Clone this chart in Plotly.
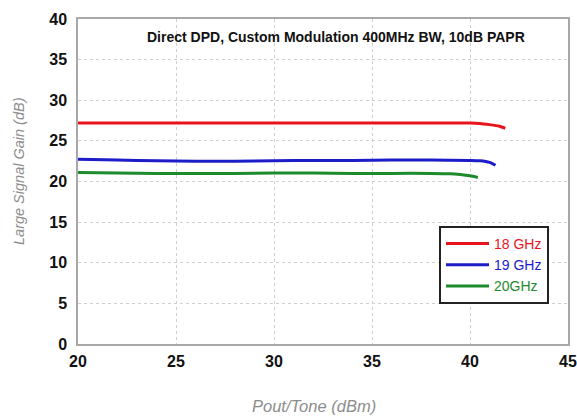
import plotly.graph_objects as go

# Output power per tone (dBm) and large-signal gain (dB) for each carrier frequency
pout_18 = [20, 22, 24, 26, 28, 30, 32, 34, 36, 38, 40, 40.5, 41, 41.5, 41.8]
gain_18 = [27.2, 27.2, 27.2, 27.2, 27.2, 27.2, 27.2, 27.2, 27.2, 27.2, 27.2, 27.15, 27.0, 26.8, 26.55]

pout_19 = [20, 22, 24, 26, 28, 30, 32, 34, 36, 38, 40, 40.5, 41, 41.3]
gain_19 = [22.75, 22.65, 22.55, 22.5, 22.5, 22.55, 22.6, 22.6, 22.65, 22.65, 22.6, 22.55, 22.35, 22.0]

pout_20 = [20, 22, 24, 26, 28, 30, 32, 34, 36, 38, 39, 39.5, 40, 40.4]
gain_20 = [21.1, 21.05, 21.0, 21.0, 21.0, 21.05, 21.05, 21.0, 21.0, 21.0, 20.95, 20.85, 20.7, 20.5]

series = [
    ("18 GHz", pout_18, gain_18, "#e8141c"),
    ("19 GHz", pout_19, gain_19, "#1c1cc8"),
    ("20GHz", pout_20, gain_20, "#1d8a2c"),
]

x_ticks = [20, 25, 30, 35, 40, 45]
y_ticks = [0, 5, 10, 15, 20, 25, 30, 35, 40]

# Plot-area geometry in pixels
L, R, T, B = 78, 568, 19, 344
W, H = R - L, B - T


def px_x(p):
    return (p - L) / W


def px_y(p):
    return (B - p) / H


fig = go.Figure()
for name, xs, ys, color in series:
    fig.add_trace(go.Scatter(
        x=xs, y=ys, mode="lines",
        line=dict(color=color, width=3, shape="spline", smoothing=0.6),
        name=f"<span style='color:{color}'>{name}</span>",
    ))

axis_common = dict(
    showline=True, linecolor="#a8a8a8", linewidth=1.5, mirror=True,
    showgrid=True, gridcolor="#cfcfcf", griddash="dot", gridwidth=1,
    zeroline=False, ticks="", automargin=False,
    tickfont=dict(family="Liberation Sans, Arial", size=16, color="#111111", weight="bold"),
)

fig.update_xaxes(range=[20, 45], tickvals=x_ticks, ticklabelstandoff=2, **axis_common)
fig.update_yaxes(range=[0, 40], tickvals=y_ticks, ticklabelstandoff=6, **axis_common)

fig.update_layout(
    width=577, height=417,
    margin=dict(l=L, r=577 - R, t=T, b=417 - B),
    paper_bgcolor="white", plot_bgcolor="white",
    font=dict(family="Liberation Sans, Arial"),
    showlegend=True,
    legend=dict(
        x=px_x(439), y=px_y(226), xanchor="left", yanchor="top",
        bordercolor="#222222", borderwidth=2, bgcolor="white",
        font=dict(family="Liberation Sans, Arial", size=14),
        itemwidth=43,
    ),
    annotations=[
        dict(text="<b>Direct DPD, Custom Modulation 400MHz BW, 10dB PAPR</b>",
             x=px_x(336), y=px_y(37), xref="paper", yref="paper", showarrow=False,
             xanchor="center", yanchor="middle",
             font=dict(size=14, color="#111111")),
        dict(text="<i>Pout/Tone (dBm)</i>", x=px_x(314), y=px_y(406),
             xref="paper", yref="paper", showarrow=False,
             xanchor="center", yanchor="middle",
             font=dict(size=16.5, color="#8c8c8c")),
        dict(text="<i>Large Signal Gain (dB)</i>", x=px_x(19), y=px_y(171),
             xref="paper", yref="paper", showarrow=False, textangle=-90,
             xanchor="center", yanchor="middle",
             font=dict(size=14.5, color="#8c8c8c")),
    ],
)

fig.write_html("out.html")
